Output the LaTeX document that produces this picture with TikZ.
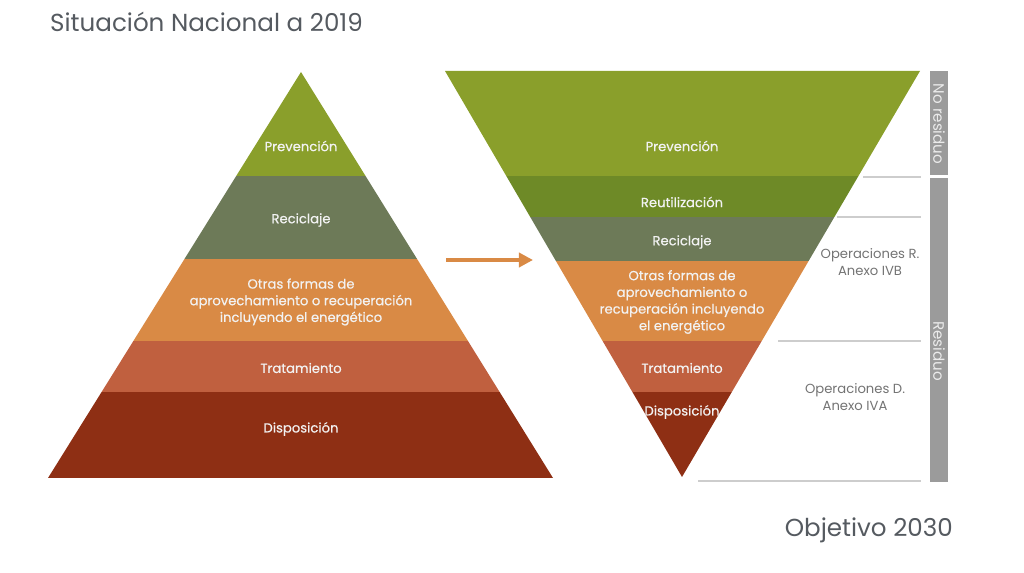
\documentclass[tikz,border=0pt]{standalone}
\usepackage{fontspec}
\setmainfont{Poppins}
\newfontfamily\bandfont[FakeBold=0.5]{Poppins}
\usepackage{tikz}
\usetikzlibrary{arrows.meta,positioning,calc}

\definecolor{prevcol}{HTML}{8A9F2B}
\definecolor{reutcol}{HTML}{6E8A27}
\definecolor{reciccol}{HTML}{6D7A58}
\definecolor{otrascol}{HTML}{D98A45}
\definecolor{tratcol}{HTML}{C0603F}
\definecolor{dispcol}{HTML}{8E2F14}
\definecolor{barcol}{HTML}{9B9B9B}
\definecolor{rulecol}{HTML}{CDCDCD}
\definecolor{titlecol}{HTML}{555A60}

\begin{document}
\begin{tikzpicture}[x=0.02cm, y=-0.02cm,
  band/.style={text=white!95!black, font=\bandfont\fontsize{7.5}{9.5}\selectfont, align=center, inner sep=1pt},
  opnote/.style={text=gray!90!black, font=\fontsize{7.5}{9.5}\selectfont, align=center, inner sep=1pt},
  sidebar/.style={text=white!92!black, font=\fontsize{8.6}{9}\selectfont, rotate=-90, inner sep=1pt},
  sep/.style={rulecol, line width=1.1pt}]
\useasboundingbox (0,0) rectangle (1024,573);

% titles
\node[anchor=west, text=titlecol, font=\fontsize{14}{16}\selectfont] (tit2019) at (44,22) {Situación Nacional a 2019};
\node[anchor=east, text=titlecol, font=\fontsize{14}{16}\selectfont] (tit2030) at (959,530) {Objetivo 2030};

% left pyramid, bands clipped by the triangle
\begin{scope}
\clip (301,72) -- (553,478) -- (48,478) -- cycle;
\foreach \ya/\yb/\col in {60/176/prevcol, 176/259/reciccol, 259/341/otrascol, 341/392/tratcol, 392/490/dispcol}
  \fill[\col] (40,\ya) rectangle (560,\yb);
\end{scope}
\node[band] (lprev) at (301,146) {Prevención};
\node[band] (lrecic) at (301,220) {Reciclaje};
\node[band] (lotras) at (301,302) {Otras formas de\\aprovechamiento o recuperación\\incluyendo el energético};
\node[band] (ltrat) at (301,368) {Tratamiento};
\node[band] (ldisp) at (301,429) {Disposición};

% right pyramid (inverted)
\begin{scope}
\clip (445,71) -- (920,71) -- (682,477) -- cycle;
\foreach \ya/\yb/\col in {60/176/prevcol, 176/217/reutcol, 217/261/reciccol, 261/341/otrascol, 341/392/tratcol, 392/490/dispcol}
  \fill[\col] (440,\ya) rectangle (925,\yb);
\end{scope}
\node[band] (rprev) at (682,146) {Prevención};
\node[band] (rreut) at (682,202) {Reutilización};
\node[band] (rrecic) at (682,242) {Reciclaje};
\node[band] (rotras) at (682,302) {Otras formas de\\aprovechamiento o\\recuperación incluyendo\\el energético};
\node[band] (rtrat) at (682,368) {Tratamiento};
\node[band] (rdisp) at (682,412) {Disposición};

% arrow between both
\coordinate (arrfrom) at (446,260);
\coordinate (arrto) at (533,260);
\draw[-{Triangle[length=8pt,width=8pt]}, otrascol, line width=2pt] (arrfrom) -- (arrto);

% separators
\draw[sep] (863,177) -- (921,177);
\draw[sep, line width=0.7pt] (837,217) -- (921,217);
\draw[sep] (778,341) -- (921,341);
\draw[sep] (698,481) -- (921,481);

\node[opnote] (opr) at (870,262) {Operaciones R.\\Anexo IVB};
\node[opnote] (opd) at (855,397) {Operaciones D.\\Anexo IVA};

% side bars
\fill[barcol] (930,71) rectangle (948,175);
\fill[barcol] (930,178) rectangle (948,482);
\node[sidebar] (nores) at (939,124) {No residuo};
\node[sidebar] (resid) at (939,351) {Residuo};
\end{tikzpicture}
\end{document}
